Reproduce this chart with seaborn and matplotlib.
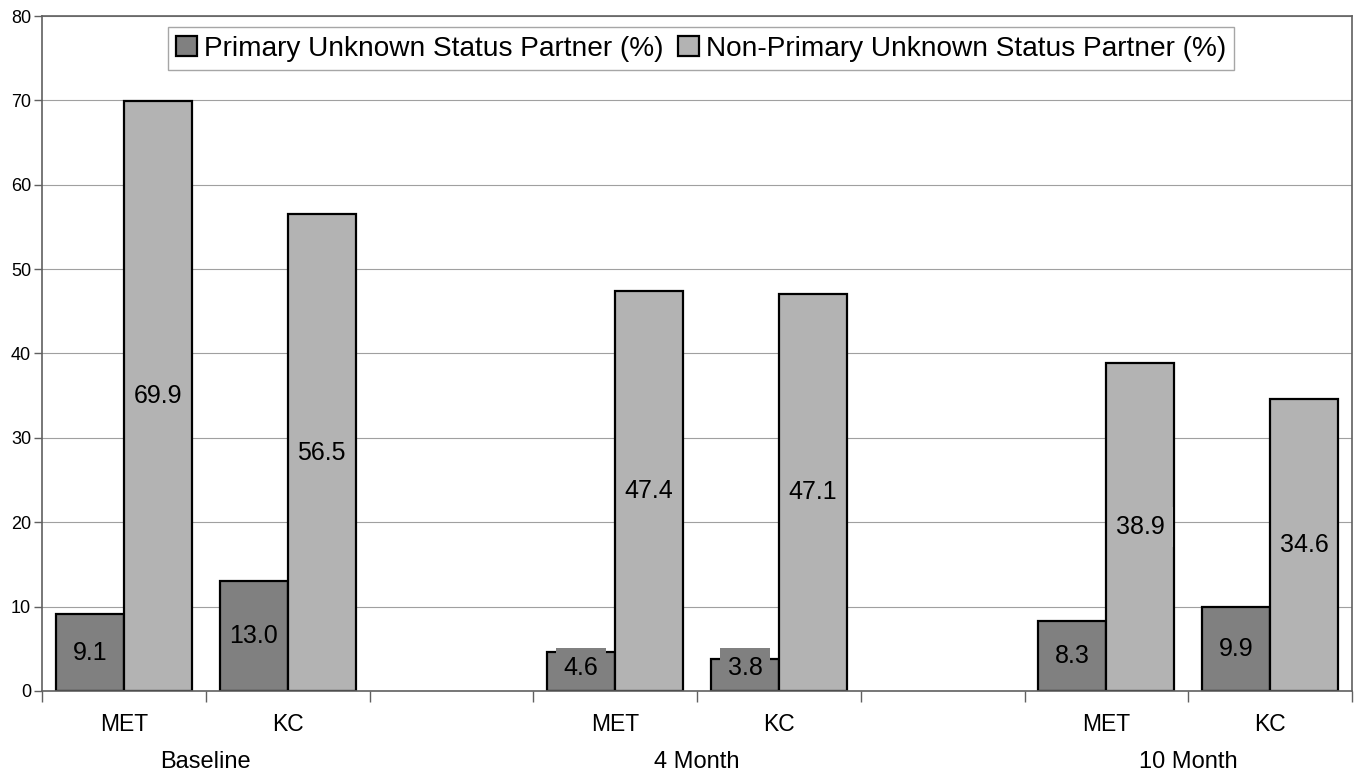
import pandas as pd
import numpy as np
import matplotlib.pyplot as plt
import seaborn as sns

# values
periods = ["Baseline", "4 Month", "10 Month"]
arms = ["MET", "KC"]
primary = [9.1, 13.0, 4.6, 3.8, 8.3, 9.9]
non_primary = [69.9, 56.5, 47.4, 47.1, 38.9, 34.6]
series = ["Primary Unknown Status Partner (%)", "Non-Primary Unknown Status Partner (%)"]
colors = ["#808080", "#b3b3b3"]

rows = []
slots = []
k = 0
for i, p in enumerate(periods):
    for a in arms:
        slot = p + " " + a
        rows.append({"slot": slot, "series": series[0], "value": primary[k]})
        rows.append({"slot": slot, "series": series[1], "value": non_primary[k]})
        slots.append(slot)
        k += 1
    if i < len(periods) - 1:
        slots.append("gap%d" % i)
df = pd.DataFrame(rows)

sns.set_style("white")
plt.rcParams['font.family'] = ['Liberation Sans', 'DejaVu Sans']
plt.rcParams['text.color'] = 'black'
plt.rcParams['xtick.color'] = 'black'
plt.rcParams['ytick.color'] = 'black'

fig = plt.figure(figsize=(13.58, 7.77), dpi=100)
ax = fig.add_axes([0.031, 0.1107, 0.9646, 0.8687])

sns.barplot(data=df, x="slot", y="value", hue="series", order=slots,
            hue_order=series, palette=colors, width=0.83, edgecolor="black",
            linewidth=1.6, saturation=1, ax=ax, zorder=2)

# labels centred in the bar, but kept clear of the axis for short bars (Excel style)
min_y = 2.73
for cont, c in zip(ax.containers, colors):
    for bar in cont:
        h = bar.get_height()
        ax.text(bar.get_x() + bar.get_width() / 2, max(h / 2, min_y), "%.1f" % h,
                ha="center", va="center", fontsize=18, color="black",
                bbox=dict(facecolor=c, edgecolor="none", pad=5.5), zorder=5)

ax.set_ylim(0, 80)
ax.set_xlim(-0.5, len(slots) - 0.5)
ax.set_yticks(range(0, 81, 10))
ax.tick_params(axis="y", labelsize=13, length=6, width=1, color="#606060", pad=2, left=True)
ax.yaxis.grid(True, color="#a0a0a0", linewidth=0.8, zorder=0)
ax.set_axisbelow(True)

ax.set_xticks(np.arange(-0.5, len(slots), 1.0))
ax.set_xticklabels([])
ax.tick_params(axis="x", which="major", length=8, width=1, color="#606060", bottom=True)
centers = [i for i, s in enumerate(slots) if not s.startswith("gap")]
ax.set_xticks(centers, minor=True)
ax.set_xticklabels(arms * len(periods), minor=True, fontsize=16.5)
ax.tick_params(axis="x", which="minor", length=0, pad=16)
for i, p in enumerate(periods):
    ax.text(3 * i + 0.5, -0.105, p, transform=ax.get_xaxis_transform(),
            ha="center", va="center", fontsize=17)

for sp in ax.spines.values():
    sp.set_color("#606060")
    sp.set_linewidth(1.2)
ax.set_xlabel("")
ax.set_ylabel("")

leg = ax.legend(loc="upper center", bbox_to_anchor=(0.503, 0.983), ncol=2,
                fontsize=20.2, frameon=True, fancybox=False, edgecolor="#909090",
                borderaxespad=0, handlelength=0.75, handleheight=0.75,
                handletextpad=0.25, columnspacing=0.5, borderpad=0.3)
leg.get_frame().set_linewidth(1.0)
for h in leg.legend_handles:
    h.set_edgecolor("black")
    h.set_linewidth(1.6)

fig.savefig("out.png", dpi=100)
